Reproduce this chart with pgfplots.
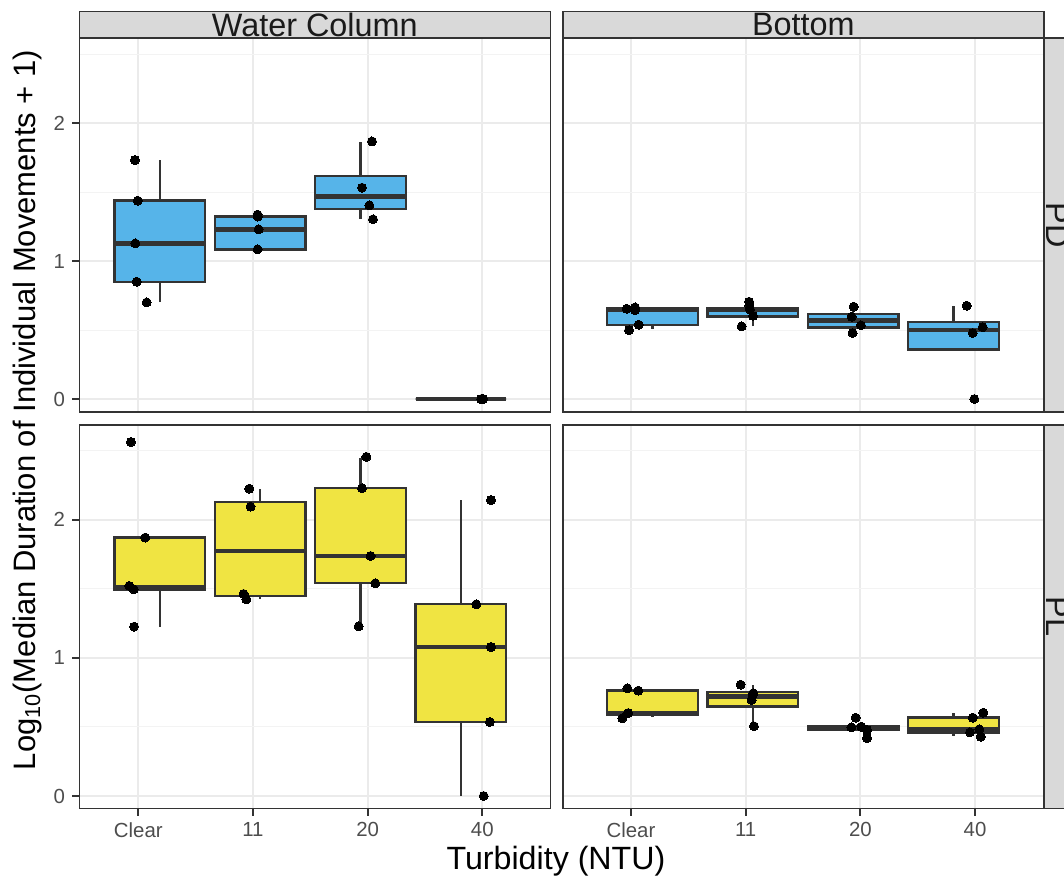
\documentclass[border=0pt]{standalone}
\usepackage{fontspec}
\setmainfont{Liberation Sans}
\usepackage{pgfplots}
\pgfplotsset{compat=1.18}
\usepgfplotslibrary{statistics}
\definecolor{pdblue}{HTML}{56B4E9}
\definecolor{plyellow}{HTML}{F0E442}
\definecolor{gtwenty}{HTML}{333333}
\definecolor{gthirty}{HTML}{4D4D4D}
\definecolor{stripgray}{HTML}{D9D9D9}
\definecolor{gridmaj}{HTML}{EBEBEB}
\definecolor{gridmin}{HTML}{F3F3F3}
\definecolor{striptext}{HTML}{1A1A1A}

\pgfplotsset{
  panel/.style={
    scale only axis,
    anchor=south west,
    axis line style={draw=gtwenty, line width=0.8pt},
    xtick={1,2,3,4},
    ytick={0,1,2},
    minor ytick={0.5,1.5,2.5},
    xmajorgrids, ymajorgrids, yminorgrids,
    major grid style={draw=gridmaj, line width=1pt},
    minor grid style={draw=gridmin, line width=0.55pt},
    minor tick length=0pt,
    tick align=outside,
    tick pos=left,
    major tick length=3.6pt,
    every tick/.style={draw=gtwenty, line width=1pt},
    tick label style={font=\fontsize{10.2pt}{12pt}\selectfont, text=gthirty},
    /pgf/number format/assume math mode=true,
    boxplot/draw direction=y,
  },
  bxs/.style={fill=#1, draw=gtwenty, line width=1.2pt, solid, mark=none,
    boxplot/draw direction=y,
    boxplot/box extend=0.79, boxplot/whisker extend=0,
    boxplot/every median/.style={line width=2.3pt}},
  pts/.style={only marks, mark=*, mark size=2.25pt, black, mark options={fill=black, draw=black, line width=0pt}},
}

\begin{document}
\begin{tikzpicture}
% ---------------- Water Column / PD ----------------
\begin{axis}[panel, name=a1, at={(39.65pt,233.0pt)}, width=235.5pt, height=186.85pt,
  xmin=0.4856, xmax=4.593, ymin=-0.094, ymax=2.617,
  xmajorticks=false, yticklabels={0,1,2}]
\addplot[bxs=pdblue, boxplot prepared={draw position=1.1875, lower whisker=0.701, lower quartile=0.851, median=1.129, upper quartile=1.439, upper whisker=1.734}] coordinates {};
\addplot[bxs=pdblue, boxplot prepared={draw position=2.0625, lower whisker=1.086, lower quartile=1.086, median=1.231, upper quartile=1.323, upper whisker=1.335}] coordinates {};
\addplot[bxs=pdblue, boxplot prepared={draw position=2.9375, lower whisker=1.306, lower quartile=1.378, median=1.468, upper quartile=1.618, upper whisker=1.867}] coordinates {};
\addplot[bxs=pdblue, boxplot prepared={draw position=3.8125, lower whisker=0, lower quartile=0, median=0, upper quartile=0, upper whisker=0}] coordinates {};
\addplot[pts] coordinates {
 (0.971,1.734) (0.995,1.439) (0.974,1.129) (0.986,0.851) (1.073,0.701)
 (2.040,1.338) (2.042,1.324) (2.050,1.231) (2.040,1.086)
 (3.038,1.869) (2.951,1.533) (3.015,1.405) (3.047,1.304)
 (4.000,0) (3.990,0) (4.008,0) (4.003,0)
};
\end{axis}
% ---------------- Bottom / PD ----------------
\begin{axis}[panel, name=a2, at={(281.35pt,233.0pt)}, width=240.65pt, height=186.85pt,
  xmin=0.4045, xmax=4.6016, ymin=-0.094, ymax=2.617,
  xmajorticks=false, ymajorticks=false]
\addplot[bxs=pdblue, boxplot prepared={draw position=1.1875, lower whisker=0.506, lower quartile=0.539, median=0.651, upper quartile=0.658, upper whisker=0.665}] coordinates {};
\addplot[bxs=pdblue, boxplot prepared={draw position=2.0625, lower whisker=0.527, lower quartile=0.600, median=0.646, upper quartile=0.658, upper whisker=0.706}] coordinates {};
\addplot[bxs=pdblue, boxplot prepared={draw position=2.9375, lower whisker=0.479, lower quartile=0.520, median=0.568, upper quartile=0.617, upper whisker=0.670}] coordinates {};
\addplot[bxs=pdblue, boxplot prepared={draw position=3.8125, lower whisker=0.360, lower quartile=0.360, median=0.500, upper quartile=0.561, upper whisker=0.677}] coordinates {};
\addplot[pts] coordinates {
 (0.963,0.655) (1.035,0.665) (1.035,0.646) (1.067,0.539) (0.983,0.500)
 (2.030,0.706) (2.033,0.675) (2.037,0.651) (2.064,0.604) (1.965,0.527)
 (2.942,0.670) (2.924,0.597) (3.005,0.535) (2.933,0.479)
 (3.928,0.677) (4.067,0.522) (3.980,0.479) (3.994,0)
};
\end{axis}
% ---------------- Water Column / PL ----------------
\begin{axis}[panel, name=a3, at={(39.65pt,34.85pt)}, width=235.5pt, height=191.65pt,
  xmin=0.4856, xmax=4.593, ymin=-0.089, ymax=2.686,
  xticklabels={Clear,11,20,40}, yticklabels={0,1,2}]
\addplot[bxs=plyellow, boxplot prepared={draw position=1.1875, lower whisker=1.226, lower quartile=1.492, median=1.509, upper quartile=1.871, upper whisker=1.871}] coordinates {};
\addplot[bxs=plyellow, boxplot prepared={draw position=2.0625, lower whisker=1.424, lower quartile=1.446, median=1.774, upper quartile=2.127, upper whisker=2.223}] coordinates {};
\addplot[bxs=plyellow, boxplot prepared={draw position=2.9375, lower whisker=1.229, lower quartile=1.540, median=1.738, upper quartile=2.228, upper whisker=2.450}] coordinates {};
\addplot[bxs=plyellow, boxplot prepared={draw position=3.8125, lower whisker=0, lower quartile=0.536, median=1.079, upper quartile=1.388, upper whisker=2.143}] coordinates {};
\addplot[pts] coordinates {
 (0.936,2.563) (1.061,1.871) (0.922,1.521) (0.960,1.497) (0.963,1.226)
 (1.968,2.225) (1.979,2.095) (1.918,1.463) (1.942,1.424)
 (2.989,2.455) (2.951,2.228) (3.026,1.738) (3.067,1.540) (2.922,1.229)
 (4.076,2.143) (3.948,1.388) (4.076,1.079) (4.065,0.536) (4.012,0)
};
\end{axis}
% ---------------- Bottom / PL ----------------
\begin{axis}[panel, name=a4, at={(281.35pt,34.85pt)}, width=240.65pt, height=191.65pt,
  xmin=0.4045, xmax=4.6016, ymin=-0.089, ymax=2.686,
  xticklabels={Clear,11,20,40}, ymajorticks=false]
\addplot[bxs=plyellow, boxplot prepared={draw position=1.1875, lower whisker=0.570, lower quartile=0.591, median=0.599, upper quartile=0.763, upper whisker=0.773}] coordinates {};
\addplot[bxs=plyellow, boxplot prepared={draw position=2.0625, lower whisker=0.502, lower quartile=0.647, median=0.719, upper quartile=0.755, upper whisker=0.802}] coordinates {};
\addplot[bxs=plyellow, boxplot prepared={draw position=2.9375, lower whisker=0.476, lower quartile=0.476, median=0.490, upper quartile=0.507, upper whisker=0.507}] coordinates {};
\addplot[bxs=plyellow, boxplot prepared={draw position=3.8125, lower whisker=0.432, lower quartile=0.456, median=0.483, upper quartile=0.567, upper whisker=0.603}] coordinates {};
\addplot[pts] coordinates {
 (0.968,0.780) (1.064,0.763) (0.976,0.601) (0.924,0.563)
 (1.956,0.806) (2.066,0.744) (2.061,0.737) (2.052,0.695) (2.072,0.505)
 (2.959,0.567) (2.922,0.497) (3.009,0.502) (3.058,0.478) (3.058,0.420)
 (4.072,0.603) (3.980,0.567) (4.037,0.483) (3.956,0.461) (4.050,0.429)
};
\end{axis}
% ---------------- strips ----------------
\begin{scope}[every node/.style={font=\fontsize{16.2pt}{19pt}\selectfont, text=striptext, inner sep=0pt}]
\draw[fill=stripgray, draw=gtwenty, line width=0.8pt] (a1.north west) rectangle ([yshift=13.3pt]a1.north east);
\path (a1.north west) -- ([yshift=13.3pt]a1.north east) node[midway] {Water Column};
\draw[fill=stripgray, draw=gtwenty, line width=0.8pt] (a2.north west) rectangle ([yshift=13.3pt]a2.north east);
\path (a2.north west) -- ([yshift=13.3pt]a2.north east) node[midway] {Bottom};
\draw[fill=stripgray, draw=gtwenty, line width=0.8pt] (a2.south east) rectangle ([xshift=13.5pt]a2.north east);
\path (a2.south east) -- ([xshift=13.5pt]a2.north east) node[midway, rotate=-90] {PD};
\draw[fill=stripgray, draw=gtwenty, line width=0.8pt] (a4.south east) rectangle ([xshift=13.5pt]a4.north east);
\path (a4.south east) -- ([xshift=13.5pt]a4.north east) node[midway, rotate=-90] {PL};
\end{scope}
% ---------------- axis titles ----------------
\node[rotate=90, anchor=base, font=\fontsize{15.5pt}{18pt}\selectfont, inner sep=0pt] at (17.5pt,234pt) {Log\textsubscript{10}(Median Duration of Individual Movements + 1)};
\node[anchor=base, font=\fontsize{16.1pt}{19pt}\selectfont, inner sep=0pt] at (278pt,4.5pt) {Turbidity (NTU)};
\pgfresetboundingbox
\path[use as bounding box] (0pt,0pt) rectangle (532pt,439pt);
\end{tikzpicture}
\end{document}
